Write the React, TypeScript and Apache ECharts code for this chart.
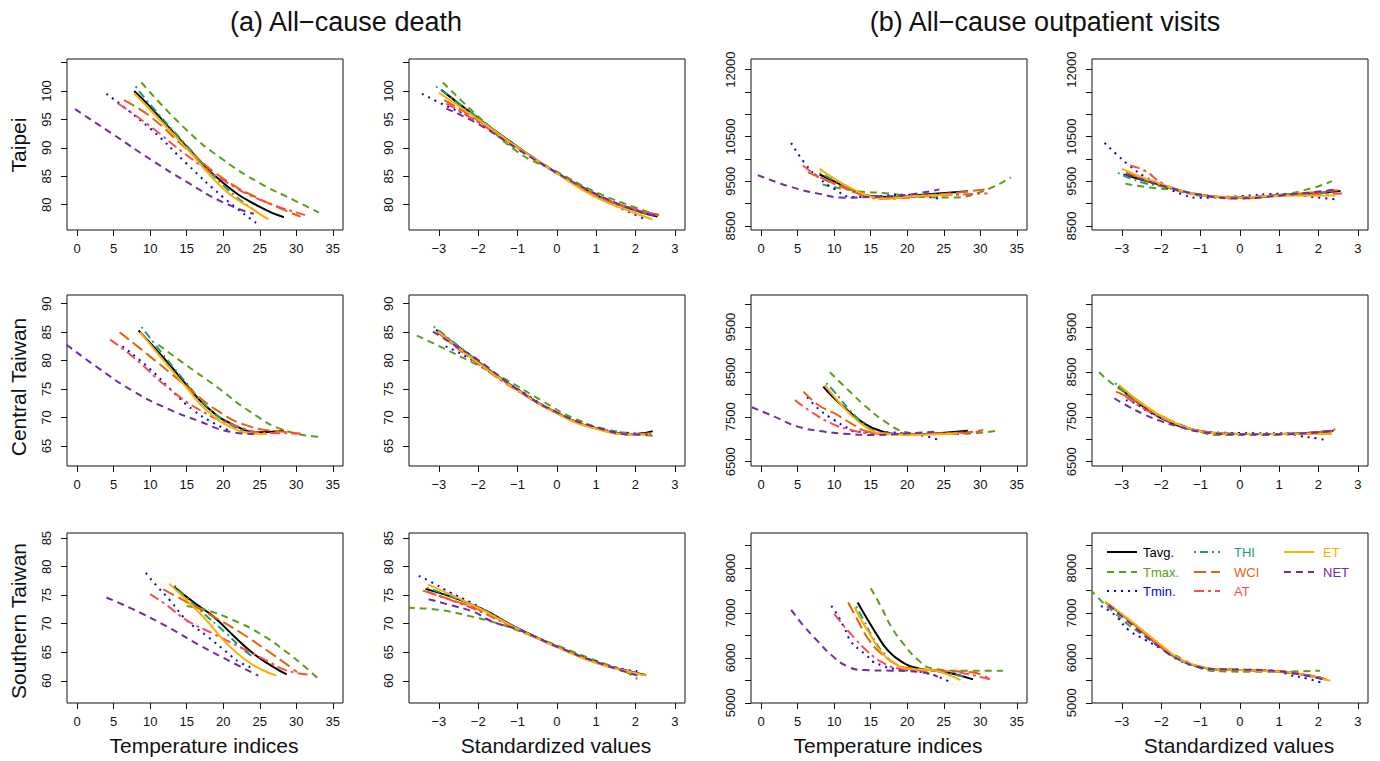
import React, { useEffect, useRef } from "react";
import * as echarts from "echarts";

// ---------- labels & ticks ----------
const indexNames = ["Tavg.", "Tmax.", "Tmin.", "THI", "WCI", "AT", "ET", "NET"];
const rowNames = ["Taipei", "Central Taiwan", "Southern Taiwan"];
const panelTitles = ["(a) All\u2212cause death", "(b) All\u2212cause outpatient visits"];
const xTitles = ["Temperature indices", "Standardized values", "Temperature indices", "Standardized values"];

const temperatureTicks = [0, 5, 10, 15, 20, 25, 30, 35];
const standardizedTicks = [-3, -2, -1, 0, 1, 2, 3];

const deathTaipeiTicks = [80, 85, 90, 95, 100, 105];
const deathTaipeiLabels = [80, 85, 90, 95, 100];
const deathCentralTicks = [65, 70, 75, 80, 85, 90];
const deathSouthernTicks = [60, 65, 70, 75, 80, 85];
const visitTaipeiTicks = [8500, 9000, 9500, 10000, 10500, 11000, 11500, 12000];
const visitTaipeiLabels = [8500, 9500, 10500, 12000];
const visitCentralTicks = [6500, 7000, 7500, 8000, 8500, 9000, 9500, 10000];
const visitCentralLabels = [6500, 7500, 8500, 9500];
const visitSouthernTicks = [5000, 5500, 6000, 6500, 7000, 7500, 8000, 8500];
const visitSouthernLabels = [5000, 6000, 7000, 8000];

// ---------- data: series order = Tavg, Tmax, Tmin, THI, WCI, AT, ET, NET ----------
const deathTaipeiTemp = [
  [[7.8, 100], [10, 97.2], [15, 90.2], [20, 83.8], [25, 79.6], [28.3, 77.8]],
  [[8.8, 101.5], [15, 93.1], [20, 87.9], [25, 83.8], [30, 80.6], [33.1, 78.6]],
  [[4, 99.5], [10, 93.4], [15, 87.2], [20, 81.3], [24.5, 76.8]],
  [[8, 100.8], [10, 97.6], [15, 90.4], [20, 83.4], [24.5, 78.8]],
  [[6.4, 98.4], [10, 95.5], [15, 89.8], [20, 84.6], [25, 81.0], [30.6, 77.9]],
  [[5.6, 97.8], [10, 93.8], [15, 88.7], [20, 84.3], [25, 80.9], [31.2, 78.2]],
  [[7.8, 99.6], [10, 96.7], [15, 89.9], [20, 82.8], [24, 79.2], [26.2, 77.4]],
  [[-0.3, 96.8], [5, 92.3], [10, 88], [15, 84], [20, 80.4], [24.2, 78.4]],
];
const deathTaipeiStd = [
  [[-2.94, 100.2], [-2, 95.2], [-1, 90.2], [0, 85.6], [1, 81.7], [2, 79.0], [2.56, 77.9]],
  [[-2.9, 101.5], [-2, 95.5], [-1, 89.3], [0, 85.8], [1, 82.2], [2, 79.5], [2.56, 78.2]],
  [[-3.43, 99.5], [-3, 98.0], [-2, 94.6], [-1, 90], [0, 85.5], [1, 81.5], [2, 78.2], [2.31, 77.3]],
  [[-3.07, 100.8], [-2, 95.3], [-1, 90.2], [0, 85.6], [1, 81.6], [2, 78.9], [2.5, 78.0]],
  [[-2.86, 98.4], [-2, 94.8], [-1, 90], [0, 85.6], [1, 81.7], [2, 79.1], [2.6, 78.2]],
  [[-2.81, 97.8], [-2, 94.5], [-1, 90], [0, 85.6], [1, 81.7], [2, 79.2], [2.65, 78.2]],
  [[-3, 99.7], [-2, 95.0], [-1, 90.1], [0, 85.5], [1, 81.3], [2, 78.5], [2.43, 77.4]],
  [[-2.81, 96.9], [-2, 94.2], [-1, 89.8], [0, 85.6], [1, 81.9], [2, 79.0], [2.56, 78.0]],
];
const visitTaipeiTemp = [
  [[8, 9654], [10, 9500], [12, 9340], [15, 9175], [18, 9150], [22, 9200], [28.3, 9280]],
  [[8.4, 9430], [13, 9285], [17, 9235], [22, 9150], [26, 9140], [30, 9260], [34.2, 9590]],
  [[4.1, 10360], [6, 9900], [8, 9560], [10, 9330], [12.5, 9150], [16, 9170], [20, 9200], [24.4, 9110]],
  [[8, 9690], [10, 9520], [12, 9350], [15, 9170], [18, 9150], [22, 9190], [25, 9210]],
  [[6.4, 9700], [9, 9520], [12, 9320], [15, 9160], [18, 9140], [24, 9200], [30.6, 9320]],
  [[5.7, 9855], [8, 9600], [11, 9380], [14, 9180], [17, 9110], [22, 9160], [31, 9230]],
  [[8, 9780], [10, 9560], [12.5, 9330], [15, 9160], [17, 9110], [21, 9170], [26.2, 9207]],
  [[-0.46, 9640], [4, 9380], [8, 9220], [11.4, 9135], [15, 9150], [20, 9200], [24.4, 9320]],
];
const visitTaipeiStd = [
  [[-2.96, 9654], [-2, 9420], [-1, 9200], [0, 9140], [1, 9190], [2, 9240], [2.56, 9282]],
  [[-2.91, 9445], [-2.23, 9356], [-1.5, 9290], [-1, 9180], [0, 9150], [1, 9200], [1.87, 9356], [2.34, 9505]],
  [[-3.44, 10362], [-3.13, 10100], [-2.79, 9840], [-2.44, 9617], [-2.1, 9470], [-1.46, 9207], [-1.03, 9133], [0, 9170], [1, 9220], [2.04, 9133], [2.47, 9096]],
  [[-3.1, 9690], [-2.5, 9480], [-2, 9390], [-1, 9190], [0, 9140], [1, 9190], [2.4, 9260]],
  [[-2.9, 9700], [-2, 9410], [-1, 9200], [0, 9140], [1, 9190], [2.51, 9304]],
  [[-2.79, 9855], [-2.4, 9730], [-2, 9470], [-1.6, 9319], [-1, 9190], [0, 9115], [1, 9180], [2.6, 9230]],
  [[-3, 9780], [-2, 9440], [-1, 9200], [0, 9140], [1, 9180], [2.43, 9185]],
  [[-2.9, 9660], [-2.4, 9520], [-2, 9410], [-1, 9200], [0, 9120], [1, 9180], [2.47, 9319]],
];
const deathCentralTemp = [
  [[8.4, 85.3], [12.3, 79.8], [15, 75.7], [17.7, 71.9], [21.4, 68.7], [25.1, 67.4], [28.3, 67.7]],
  [[11.1, 82.8], [14.5, 79.6], [19.1, 75.4], [23.7, 71.0], [28.3, 67.8], [33.3, 66.6]],
  [[6.2, 82.5], [10, 78.5], [13.2, 74.4], [15.9, 71.3], [18.7, 69.0], [21, 67.6]],
  [[8.8, 85.9], [12.3, 80.2], [15, 76.0], [17.7, 72.0], [21.4, 68.5], [24.2, 67.1]],
  [[5.8, 85.0], [10, 80.7], [14.5, 76.0], [19.1, 71.3], [23.7, 68.4], [28.3, 67.5], [30.3, 67.2]],
  [[4.5, 83.7], [7.7, 80.6], [12.3, 75.4], [16.8, 71.3], [21.4, 68.7], [26, 67.3], [30.6, 67.2]],
  [[8.6, 85], [12.3, 79.3], [15, 75.2], [17.7, 71.3], [21.4, 68.1], [24.2, 67.2], [26, 67.1]],
  [[-1.46, 82.8], [3.1, 78.5], [7.7, 74.6], [12.3, 71.6], [16.8, 69.3], [20.5, 67.6], [24.2, 67.1]],
];
const deathCentralStd = [
  [[-3.07, 85.4], [-2, 79.8], [-1, 74.9], [0, 70.8], [1, 68.1], [2, 67.1], [2.44, 67.6]],
  [[-3.56, 84.4], [-2.98, 82.5], [-2.13, 79.6], [-1.28, 76.6], [-0.42, 73.1], [0.43, 69.9], [1.28, 67.9], [2.44, 66.8]],
  [[-2.83, 82.5], [-2.3, 80.7], [-1.79, 78.4], [-1, 75.0], [0, 70.9], [1, 68.2], [2, 67.2], [2.4, 67.1]],
  [[-3.13, 86], [-2, 79.9], [-1, 74.9], [0, 70.8], [1, 68.1], [2, 67.0], [2.4, 67.1]],
  [[-3.05, 85.2], [-2, 79.6], [-1, 74.8], [0, 70.8], [1, 68.1], [2, 67.1], [2.4, 67.2]],
  [[-3.0, 84.8], [-2, 79.4], [-1, 74.7], [0, 70.8], [1, 68.1], [2, 67.1], [2.4, 67.2]],
  [[-3.02, 85.1], [-2, 79.6], [-1, 74.8], [0, 70.7], [1, 68.0], [2, 67.0], [2.35, 67.1]],
  [[-3.15, 85.1], [-2.55, 82.5], [-2, 80.1], [-1, 74.9], [0, 70.9], [1, 68.3], [2, 67.0], [2.31, 67.0]],
];
const visitCentralTemp = [
  [[8.5, 8175], [10, 7914], [12.3, 7580], [14.1, 7356], [16, 7207], [18.7, 7118], [22.4, 7118], [25.1, 7148], [28.3, 7192]],
  [[9.4, 8495], [11.9, 8100], [14.6, 7691], [17.3, 7356], [19.6, 7170], [22.4, 7118], [26.9, 7118], [32.4, 7192]],
  [[6.3, 7937], [8, 7654], [10, 7430], [11.9, 7245], [13, 7170], [17.8, 7155], [20, 7120], [22.4, 7073], [24.6, 6969]],
  [[8.9, 8250], [10, 8063], [11.9, 7691], [13.7, 7393], [15.3, 7207], [18, 7120], [22, 7110], [25, 7130]],
  [[5.8, 8063], [7.8, 7765], [10, 7580], [12.3, 7356], [14.6, 7170], [17.8, 7118], [26.9, 7133], [30.4, 7207]],
  [[4.6, 7877], [6.8, 7617], [9.6, 7356], [12.3, 7207], [15.1, 7133], [20.1, 7118], [26.9, 7148], [30.1, 7170]],
  [[8.7, 8212], [10, 7952], [12.3, 7542], [14.6, 7244], [16.4, 7133], [20.1, 7096], [25.1, 7118], [26.9, 7133]],
  [[-1.28, 7713], [1.8, 7505], [5, 7282], [8.7, 7170], [11.9, 7118], [15.5, 7096], [20.1, 7133], [24, 7170]],
];
const visitCentralStd = [
  [[-3.09, 8175], [-2.4, 7691], [-1.72, 7356], [-1.2, 7215], [-0.6, 7135], [0, 7118], [1.1, 7118], [2.38, 7192]],
  [[-3.58, 8495], [-3.26, 8250], [-2.83, 7989], [-2.4, 7728], [-1.97, 7505], [-1.55, 7341], [-1.03, 7170], [-0.6, 7096], [0.6, 7096], [2.04, 7170], [2.43, 7222]],
  [[-2.9, 7870], [-2.66, 7803], [-2.3, 7600], [-1.8, 7420], [-1.2, 7220], [-0.6, 7150], [0, 7140], [1.2, 7130], [1.53, 7073], [1.96, 7021], [2.17, 6984]],
  [[-3.17, 8250], [-2.6, 7840], [-2, 7500], [-1.4, 7270], [-0.8, 7160], [0, 7120], [1, 7120], [2.4, 7200]],
  [[-3.15, 8063], [-2.66, 7862], [-2, 7520], [-1.4, 7280], [-0.8, 7160], [0, 7120], [1, 7120], [2.35, 7180]],
  [[-2.91, 7967], [-2.6, 7765], [-2, 7480], [-1.4, 7270], [-0.8, 7160], [0, 7120], [1, 7120], [2.35, 7180]],
  [[-3.07, 8212], [-2.4, 7743], [-1.72, 7393], [-1.2, 7220], [-0.6, 7135], [0, 7118], [1.1, 7118], [2.34, 7118]],
  [[-3.19, 7914], [-2.83, 7728], [-2.4, 7542], [-1.97, 7393], [-1.55, 7282], [-1.03, 7170], [0, 7110], [1, 7110], [2.38, 7192]],
];
const deathSouthernTemp = [
  [[13.2, 76.5], [15.9, 73.8], [18.7, 71.2], [21.4, 67.9], [24.2, 64.7], [26.9, 62.4], [28.7, 61.1]],
  [[15, 73.1], [17.7, 72.4], [21.4, 70.6], [25.1, 68.2], [28.7, 65.0], [31.5, 62.1], [33.2, 60.1]],
  [[9.4, 78.9], [10.9, 76.6], [12.7, 74.1], [15, 70.6], [17.7, 67.9], [20.5, 65.0], [22.3, 63.2], [24.4, 62.1]],
  [[13.3, 76.7], [16.8, 72.4], [20.5, 68.2], [22.3, 66.0], [24.2, 64.0]],
  [[11.8, 76], [15, 73.8], [18.7, 71.2], [22.3, 68.5], [26, 65.3], [29.2, 62.4], [30.1, 61.5]],
  [[10, 75.2], [12.3, 73.2], [15, 70.6], [18.7, 68.2], [22.3, 65.9], [26, 63.5], [28.7, 61.8], [31.7, 61.1]],
  [[12.6, 77], [15, 74.1], [17.7, 70.6], [20.5, 66.5], [23.2, 63.5], [25.5, 61.8], [27.3, 60.9]],
  [[4, 74.6], [7.7, 72.5], [12.3, 69.5], [16.8, 66.2], [21.4, 63.1], [24.8, 60.9]],
];
const deathSouthernStd = [
  [[-3.34, 76.1], [-2, 72.9], [-1, 69.2], [0, 66], [1, 63.2], [2, 61.4], [2.26, 61.0]],
  [[-3.79, 72.8], [-2.98, 72.4], [-2.13, 71.2], [-1.53, 70.1], [-1.02, 68.9], [0, 66.2], [1, 63.5], [1.71, 61.7], [2.05, 60.3]],
  [[-3.51, 78.4], [-3.11, 77.0], [-2.72, 75.5], [-2.21, 73.8], [-1.7, 71.8], [-1.02, 69.2], [0, 66.0], [1, 63.4], [1.71, 62.0], [2.05, 61.7]],
  [[-3.3, 76.3], [-2, 72.8], [-1, 69.2], [0, 66], [1, 63.2], [2, 61.3]],
  [[-3.41, 75.8], [-2.6, 74.0], [-2, 72.5], [-1, 69.1], [0, 66], [1, 63.2], [2, 61.4]],
  [[-3.3, 75.6], [-2.6, 73.9], [-2, 72.3], [-1, 69.0], [0, 66], [1, 63.2], [2, 61.4], [2.1, 61.2]],
  [[-3.28, 76.9], [-2, 72.8], [-1, 69.1], [0, 65.9], [1, 63.1], [2, 61.3], [2.29, 60.9]],
  [[-3.26, 74.3], [-2.73, 73.3], [-2.13, 72.1], [-1.62, 70.3], [-1, 69.0], [0, 66], [1, 63.3], [2.05, 60.9]],
];
const visitSouthernTemp = [
  [[13.2, 7233], [14.6, 6846], [16, 6474], [17.3, 6176], [19.2, 5916], [21.5, 5767], [25.1, 5692], [29, 5521]],
  [[15, 7553], [16.4, 7144], [17.8, 6697], [19.6, 6288], [21.5, 5953], [23.3, 5767], [26.9, 5715], [33.1, 5715]],
  [[9.6, 7159], [10.3, 6995], [11.4, 6660], [12.3, 6362], [13.5, 6176], [14.4, 6064], [15.3, 5916], [16.4, 5841], [17.8, 5767], [22.4, 5670], [25.3, 5506], [26.2, 5417]],
  [[13, 7150], [14, 6850], [15.3, 6450], [16.8, 6100], [18.5, 5850], [20.5, 5750], [24, 5700], [27.8, 5580]],
  [[11.9, 7233], [13.2, 6846], [14.6, 6437], [16.4, 6102], [18.7, 5841], [20.5, 5767], [24.6, 5715], [29.2, 5670], [31.3, 5521]],
  [[10, 6980], [11.4, 6697], [12.8, 6437], [14.6, 6139], [16.4, 5916], [18.7, 5767], [22.4, 5715], [26, 5692], [31.3, 5521]],
  [[12.8, 7129], [13.7, 6846], [15.1, 6474], [16.4, 6139], [18.3, 5879], [20.1, 5752], [23.3, 5729], [25.1, 5655], [27.3, 5506]],
  [[4.1, 7070], [5.9, 6697], [7.8, 6362], [9.6, 6064], [11.9, 5804], [14.1, 5729], [17.8, 5715], [21.5, 5692], [24.2, 5580]],
];
const visitSouthernStd = [
  [[-3.41, 7233], [-2.83, 6846], [-1.97, 6250], [-1.5, 5950], [-1, 5800], [-0.5, 5740], [0, 5729], [1.02, 5692], [2.13, 5543]],
  [[-3.81, 7531], [-3.51, 7256], [-3.17, 6995], [-2.83, 6734], [-2.4, 6474], [-1.97, 6213], [-1.5, 5990], [-1, 5770], [-0.5, 5700], [0.59, 5692], [2.04, 5715]],
  [[-3.53, 7159], [-3.3, 7032], [-3.12, 6906], [-2.83, 6623], [-2.4, 6400], [-2, 6200], [-1.5, 5930], [-1, 5790], [-0.5, 5745], [0, 5740], [1, 5700], [1.27, 5618], [1.7, 5543], [2.13, 5432]],
  [[-3.4, 7220], [-2.8, 6830], [-2, 6230], [-1.5, 5950], [-1, 5800], [-0.5, 5740], [0, 5730], [1, 5700], [2.1, 5560]],
  [[-3.38, 7220], [-2.8, 6830], [-2, 6230], [-1.5, 5950], [-1, 5800], [-0.5, 5740], [0, 5730], [1, 5700], [2.2, 5520]],
  [[-3.35, 7200], [-2.8, 6820], [-2, 6230], [-1.5, 5950], [-1, 5800], [-0.5, 5740], [0, 5730], [1, 5700], [2.2, 5520]],
  [[-3.44, 7256], [-2.83, 6860], [-1.97, 6260], [-1.5, 5960], [-1, 5805], [-0.5, 5740], [0, 5729], [1.02, 5692], [2.3, 5491]],
  [[-3.34, 7181], [-2.83, 6800], [-2, 6210], [-1.5, 5940], [-1, 5790], [-0.5, 5745], [0, 5740], [1, 5700], [2.17, 5506]],
];

// ---------- styles ----------
const lineColors = ["#000000", "#5A9E1A", "#0000FF", "#1B9E77", "#E0640E", "#FF4A4A", "#FFAE00", "#6F2DA0"];
const legendTextColors = ["#000000", "#5A9E1A", "#0000FF", "#1B9E77", "#E0640E", "#FF4A4A", "#FFAE00", "#6F2DA0"];
const lineDashes: (number[] | "solid")[] = ["solid", [7, 5], [2, 5], [2, 4, 8, 4], [12, 5], [10, 4, 3, 4], "solid", [7, 5]];

const FONT = "'Liberation Sans', Arial, Helvetica, sans-serif";

type Panel = {
  data: number[][][];
  xKind: "temp" | "std";
  yMin: number;
  yMax: number;
  yTicks: number[];
  yLabels: number[];
};

const panels: Panel[] = [
  { data: deathTaipeiTemp, xKind: "temp", yMin: 75.55, yMax: 105.63, yTicks: deathTaipeiTicks, yLabels: deathTaipeiLabels },
  { data: deathTaipeiStd, xKind: "std", yMin: 75.55, yMax: 105.63, yTicks: deathTaipeiTicks, yLabels: deathTaipeiLabels },
  { data: visitTaipeiTemp, xKind: "temp", yMin: 8411, yMax: 12239, yTicks: visitTaipeiTicks, yLabels: visitTaipeiLabels },
  { data: visitTaipeiStd, xKind: "std", yMin: 8411, yMax: 12239, yTicks: visitTaipeiTicks, yLabels: visitTaipeiLabels },
  { data: deathCentralTemp, xKind: "temp", yMin: 61.48, yMax: 91.53, yTicks: deathCentralTicks, yLabels: deathCentralTicks },
  { data: deathCentralStd, xKind: "std", yMin: 61.48, yMax: 91.53, yTicks: deathCentralTicks, yLabels: deathCentralTicks },
  { data: visitCentralTemp, xKind: "temp", yMin: 6404, yMax: 10216, yTicks: visitCentralTicks, yLabels: visitCentralLabels },
  { data: visitCentralStd, xKind: "std", yMin: 6404, yMax: 10216, yTicks: visitCentralTicks, yLabels: visitCentralLabels },
  { data: deathSouthernTemp, xKind: "temp", yMin: 56.1, yMax: 85.9, yTicks: deathSouthernTicks, yLabels: deathSouthernTicks },
  { data: deathSouthernStd, xKind: "std", yMin: 56.1, yMax: 85.9, yTicks: deathSouthernTicks, yLabels: deathSouthernTicks },
  { data: visitSouthernTemp, xKind: "temp", yMin: 4995, yMax: 8783, yTicks: visitSouthernTicks, yLabels: visitSouthernLabels },
  { data: visitSouthernStd, xKind: "std", yMin: 4995, yMax: 8783, yTicks: visitSouthernTicks, yLabels: visitSouthernLabels },
];

const gridLefts = [67, 409, 751, 1092];
const gridTops = [59, 295, 533];
const gridWidth = 276;
const gridHeights = [171, 171, 170];

const fmt = (v: number) => (v < 0 ? "\u2212" + Math.abs(v) : String(v));

export default function App() {
  const ref = useRef<HTMLDivElement>(null);
  useEffect(() => {
    if (!ref.current) return;
    const chart = echarts.init(ref.current, null, { renderer: "svg" });
    const grids: any[] = [];
    const xAxes: any[] = [];
    const yAxes: any[] = [];
    const series: any[] = [];
    panels.forEach((p, i) => {
      const row = Math.floor(i / 4);
      const col = i % 4;
      grids.push({
        left: gridLefts[col],
        top: gridTops[row],
        width: gridWidth,
        height: gridHeights[row],
        show: true,
        borderColor: "#111",
        borderWidth: 1,
        backgroundColor: "transparent",
        containLabel: false,
      });
      const isTemp = p.xKind === "temp";
      const xt = isTemp ? temperatureTicks : standardizedTicks;
      xAxes.push({
        type: "value",
        gridIndex: i,
        min: isTemp ? -1.4 : -3.76,
        max: isTemp ? 36.4 : 3.26,
        axisLine: { show: false, onZero: false },
        splitLine: { show: false },
        axisTick: { show: true, inside: false, length: 6, customValues: xt, lineStyle: { color: "#111", width: 1 } },
        axisLabel: { show: true, customValues: xt, formatter: fmt, margin: 12, fontSize: 13, color: "#111", fontFamily: FONT, showMinLabel: true, showMaxLabel: true },
      });
      yAxes.push({
        type: "value",
        gridIndex: i,
        min: p.yMin,
        max: p.yMax,
        axisLine: { show: false, onZero: false },
        splitLine: { show: false },
        axisTick: { show: true, inside: false, length: 6, customValues: p.yTicks, lineStyle: { color: "#111", width: 1 } },
        axisLabel: { show: true, customValues: p.yLabels, formatter: fmt, rotate: 90, margin: 14, fontSize: 13, color: "#111", fontFamily: FONT, showMinLabel: true, showMaxLabel: true },
      });
      p.data.forEach((pts, s) => {
        series.push({
          type: "line",
          name: indexNames[s],
          xAxisIndex: i,
          yAxisIndex: i,
          data: pts,
          showSymbol: false,
          symbol: "none",
          smooth: true,
          silent: true,
          lineStyle: { color: lineColors[s], width: 2, type: lineDashes[s], cap: "butt" },
          z: 2 + s,
        });
      });
    });

    const graphics: any[] = [];
    graphics.push({ type: "text", x: 346, y: 22, style: { text: panelTitles[0], font: `27px ${FONT}`, fill: "#111", textAlign: "center", textVerticalAlign: "middle" } });
    graphics.push({ type: "text", x: 1045, y: 22, style: { text: panelTitles[1], font: `27px ${FONT}`, fill: "#111", textAlign: "center", textVerticalAlign: "middle" } });
    const rowCenters = [145, 387, 621];
    rowNames.forEach((r, k) => {
      graphics.push({ type: "text", x: 18, y: rowCenters[k], rotation: Math.PI / 2, style: { text: r, font: `21px ${FONT}`, fill: "#111", textAlign: "center", textVerticalAlign: "middle" } });
    });
    const xTitleCenters = [204, 556, 888, 1239];
    xTitles.forEach((t, k) => {
      graphics.push({ type: "text", x: xTitleCenters[k], y: 745, style: { text: t, font: `21px ${FONT}`, fill: "#111", textAlign: "center", textVerticalAlign: "middle" } });
    });
    const legRows = [552, 572, 591];
    const legLineX1 = [1107, 1194, 1284];
    const legLineX2 = [1137, 1220, 1314];
    const legTextX = [1143, 1234, 1323];
    indexNames.forEach((nm, s) => {
      const c = Math.floor(s / 3);
      const r = s % 3;
      graphics.push({
        type: "line",
        shape: { x1: legLineX1[c], y1: legRows[r], x2: legLineX2[c], y2: legRows[r] },
        style: { stroke: lineColors[s], lineWidth: 2, lineDash: lineDashes[s] === "solid" ? null : lineDashes[s] },
        z: 100,
      });
      graphics.push({
        type: "text",
        x: legTextX[c],
        y: legRows[r],
        style: { text: nm, font: `13px ${FONT}`, fill: legendTextColors[s], textAlign: "left", textVerticalAlign: "middle" },
        z: 100,
      });
    });

    chart.setOption({
      animation: false,
      backgroundColor: "#ffffff",
      grid: grids,
      xAxis: xAxes,
      yAxis: yAxes,
      series,
      graphic: graphics,
    });
    return () => chart.dispose();
  }, []);
  return (
    <div
      ref={ref}
      style={{ position: "absolute", left: 0, top: 0, width: 1380, height: 761, background: "#fff" }}
    />
  );
}
